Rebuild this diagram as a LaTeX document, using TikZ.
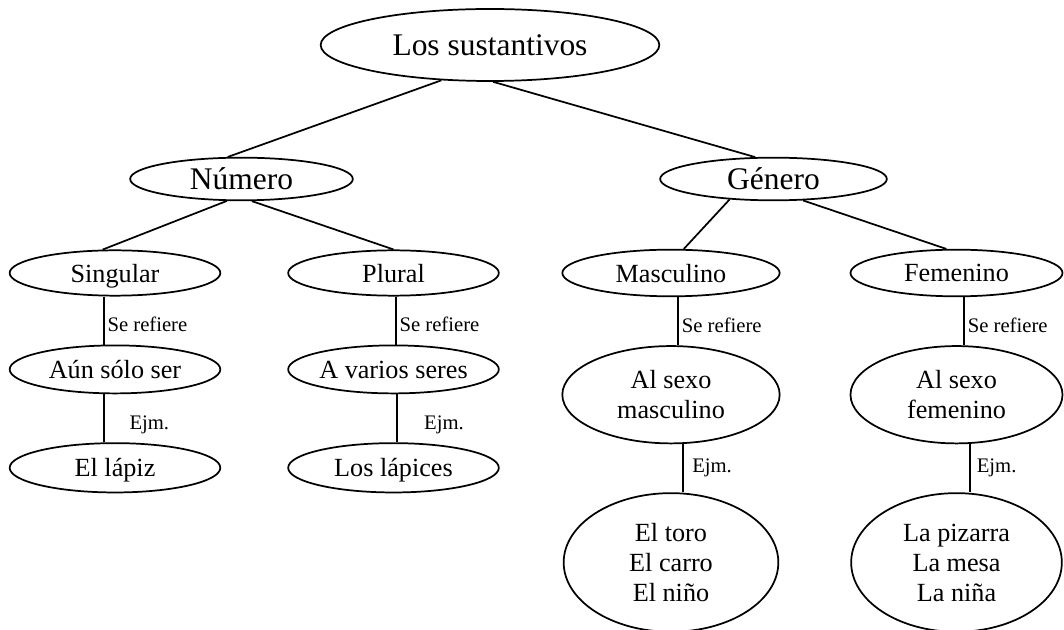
\documentclass[tikz,border=0pt]{standalone}
\usepackage{fontspec}
\setmainfont{Liberation Serif}
\usetikzlibrary{shapes.geometric, positioning}

\tikzset{
  elip/.style={draw, ellipse, line width=1.3pt, inner sep=0pt, align=center,
    font=\fontsize{19.65pt}{22.5pt}\selectfont},
  one/.style={text depth=0pt},
  big/.style={font=\fontsize{23.6pt}{28pt}\selectfont},
  conn/.style={line width=1.3pt},
  lbl/.style={font=\fontsize{15.5pt}{18pt}\selectfont, inner sep=2pt},
  refl/.style={lbl, midway, right, yshift=-3pt}
}

\begin{document}
\begin{tikzpicture}[x=0.75pt, y=-0.75pt]
        \useasboundingbox (0,0) rectangle (1064,630);
        \node[elip, big, one, minimum width=254pt, minimum height=54pt] (sus) at (490,45) {Los sustantivos};
        \node[elip, big, one, minimum width=167pt, minimum height=32pt] (num) at (241.5,179) {Número};
        \node[elip, big, one, minimum width=170pt, minimum height=32pt] (gen) at (773.5,179) {Género};

        \node[elip, one, minimum width=158pt, minimum height=34pt] (sing) at (115,273) {Singular};
        \node[elip, one, minimum width=158pt, minimum height=34pt] (plur) at (393.5,273) {Plural};
        \node[elip, one, minimum width=163pt, minimum height=35pt] (masc) at (671,273) {Masculino};
        \node[elip, one, minimum width=159pt, minimum height=35pt] (fem) at (956.5,273) {Femenino};

        \node[elip, one, minimum width=158pt, minimum height=36pt, below=36pt of sing] (uno) {Aún sólo ser};
        \node[elip, one, minimum width=158pt, minimum height=36pt, below=36pt of plur] (varios) {A varios seres};
        \node[elip, minimum width=163pt, minimum height=73pt, below=36pt of masc] (msexo) {Al sexo\\masculino};
        \node[elip, minimum width=159pt, minimum height=73pt, below=36pt of fem] (fsexo) {Al sexo\\femenino};

        \node[elip, one, minimum width=158pt, minimum height=37pt, below=36pt of uno] (lapiz) {El lápiz};
        \node[elip, one, minimum width=158pt, minimum height=37pt, below=36pt of varios] (lapices) {Los lápices};
        \node[elip, minimum width=161pt, minimum height=104pt, below=36pt of msexo] (mej) {El toro\\El carro\\El niño};
        \node[elip, minimum width=158pt, minimum height=104pt, below=36pt of fsexo] (fej) {La pizarra\\La mesa\\La niña};

        \draw[conn] (sus.216) -- (num.122);
        \draw[conn] (sus.275) -- (gen.130);
        \draw[conn] (num.236) -- (sing.118);
        \draw[conn] (num.295) -- (plur.north);
        \draw[conn] (gen.205) -- (masc.62);
        \draw[conn] (gen.324) -- (fem.113);

        \draw[conn] ([xshift=-8.25pt]sing.south) -- ([xshift=-8.25pt]uno.north) node[refl] {Se refiere};
        \draw[conn] ([xshift=1.9pt]plur.south) -- ([xshift=1.9pt]varios.north) node[refl] {Se refiere};
        \draw[conn] ([xshift=5.5pt]masc.south) -- ([xshift=5.5pt]msexo.north) node[refl] {Se refiere};
        \draw[conn] ([xshift=5.85pt]fem.south) -- ([xshift=5.85pt]fsexo.north) node[refl] {Se refiere};

        \draw[conn] ([xshift=-8.25pt]uno.south) -- ([xshift=-8.25pt]lapiz.north) node[lbl, midway, right, xshift=16.5pt, yshift=-5pt] {Ejm.};
        \draw[conn] ([xshift=2.85pt]varios.south) -- ([xshift=2.85pt]lapices.north) node[lbl, midway, right, xshift=17.5pt, yshift=-5pt] {Ejm.};
        \draw[conn] ([xshift=8.8pt]msexo.south) -- ([xshift=8.8pt]mej.north) node[lbl, midway, right, xshift=4.5pt] {Ejm.};
        \draw[conn] ([xshift=10.1pt]fsexo.south) -- ([xshift=10.1pt]fej.north) node[lbl, midway, right, xshift=2.5pt] {Ejm.};
\end{tikzpicture}
\end{document}
